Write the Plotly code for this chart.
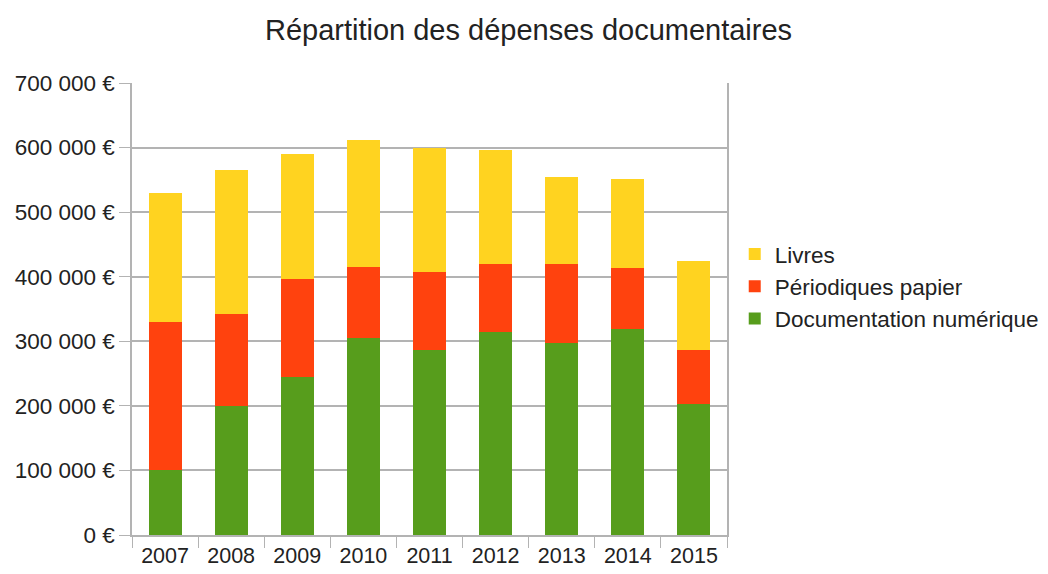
import plotly.graph_objects as go

years = ["2007", "2008", "2009", "2010", "2011", "2012", "2013", "2014", "2015"]
numerique = [100000, 200000, 245000, 305000, 286000, 314000, 297000, 319000, 203000]
periodiques = [230000, 142000, 152000, 110000, 122000, 105000, 122000, 94000, 84000]
livres = [200000, 223000, 193000, 196000, 191000, 177000, 135000, 138000, 138000]

fig = go.Figure()
fig.add_trace(go.Bar(x=years, y=numerique, name="Documentation numérique", marker_color="#579D1C"))
fig.add_trace(go.Bar(x=years, y=periodiques, name="Périodiques papier", marker_color="#FF420E"))
fig.add_trace(go.Bar(x=years, y=livres, name="Livres", marker_color="#FFD320"))

fig.update_traces(marker_line_width=0)

# page body has an 8px margin, so the figure is a bit smaller than the window
fig.update_layout(
    width=1040, height=566,
    barmode="stack", bargap=0.5,
    separators=", ",
    font=dict(family="Liberation Sans", size=21, color="#222222"),
    title=dict(text="Répartition des dépenses documentaires", x=0.5005, xanchor="center",
               y=0.961, yanchor="middle", yref="container", font=dict(size=29)),
    margin=dict(l=124, r=321, t=75, b=39, autoexpand=False),
    plot_bgcolor="white", paper_bgcolor="white",
    legend=dict(x=1.013, xanchor="left", y=0.55, yanchor="middle", traceorder="reversed",
                font=dict(size=22.5), itemwidth=30),
    showlegend=True,
)
fig.update_xaxes(showline=True, linecolor="#b3b3b3", linewidth=1.5, ticks="outside",
                 tickson="boundaries", ticklen=11, tickcolor="#b3b3b3", showgrid=False,
                 tickfont=dict(size=21.5))
fig.update_yaxes(range=[0, 700000], dtick=100000, tickformat=",d", ticksuffix=" €",
                 showline=True, mirror=True, linecolor="#b3b3b3", linewidth=1.5,
                 gridcolor="#b3b3b3", gridwidth=1.5, ticks="outside", ticklen=11,
                 tickcolor="#b3b3b3", zeroline=False, tickfont=dict(size=22.5))

fig.write_html("out.html")
